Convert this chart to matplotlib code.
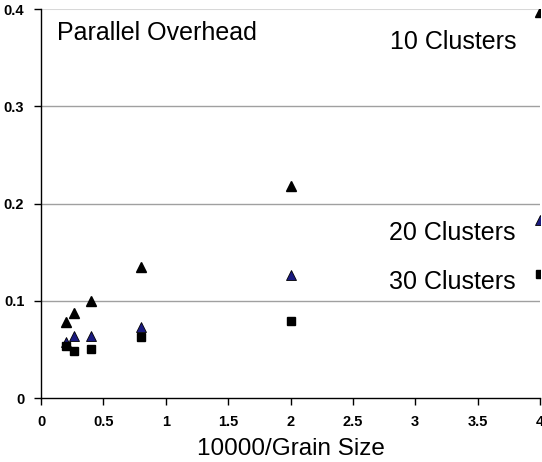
import numpy as np
import matplotlib
matplotlib.use("Agg")
import matplotlib.pyplot as plt

plt.rcParams['font.family'] = ['Liberation Sans', 'DejaVu Sans']

# 10000 / grain size
x = [0.2, 0.267, 0.4, 0.8, 2.0, 4.0]

# parallel overhead per number of clusters
c10 = [0.078, 0.0875, 0.100, 0.135, 0.218, 0.397]
c20 = [0.058, 0.064, 0.064, 0.073, 0.126, 0.183]
c30 = [0.053, 0.048, 0.0505, 0.0625, 0.079, 0.128]

fig = plt.figure(figsize=(5.42, 4.62), dpi=100)
ax = fig.add_axes([0.0757, 0.1385, 0.9206, 0.842])

ax.plot(x, c10, '^', color='black', markersize=6.5)
ax.plot(x, c20, '^', markerfacecolor='#1a1a80', markeredgecolor='black',
        markeredgewidth=0.6, markersize=6.5)
ax.plot(x, c30, 's', color='black', markersize=5.5)

ax.set_xlim(0, 4)
ax.set_ylim(0, 0.4)
ax.set_xticks(np.arange(0, 4.01, 0.5))
ax.set_xticklabels(['0', '0.5', '1', '1.5', '2', '2.5', '3', '3.5', '4'])
ax.set_yticks([0, 0.1, 0.2, 0.3, 0.4])
ax.set_yticklabels(['0', '0.1', '0.2', '0.3', '0.4'])

for yv in [0.1, 0.2, 0.3]:
    ax.axhline(yv, color='#a0a0a0', linewidth=1, zorder=0)
ax.axhline(0.4, color='#d8d8d8', linewidth=1.5, zorder=0)

for s in ['top', 'right']:
    ax.spines[s].set_visible(False)
ax.spines['left'].set_linewidth(1)
ax.spines['bottom'].set_linewidth(1)

ax.tick_params(direction='out', length=5, width=1, labelsize=10.5, pad=7)
for lab in ax.get_xticklabels() + ax.get_yticklabels():
    lab.set_fontweight('bold')

ax.set_xlabel('10000/Grain Size', fontsize=17.5, labelpad=7)

ax.text(0.13, 0.375, 'Parallel Overhead', fontsize=18, va='center', ha='left')
ax.text(2.8, 0.366, '10 Clusters', fontsize=18, va='center', ha='left')
ax.text(2.79, 0.170, '20 Clusters', fontsize=18, va='center', ha='left')
ax.text(2.79, 0.119, '30 Clusters', fontsize=18, va='center', ha='left')

fig.savefig('out.png', dpi=100)
